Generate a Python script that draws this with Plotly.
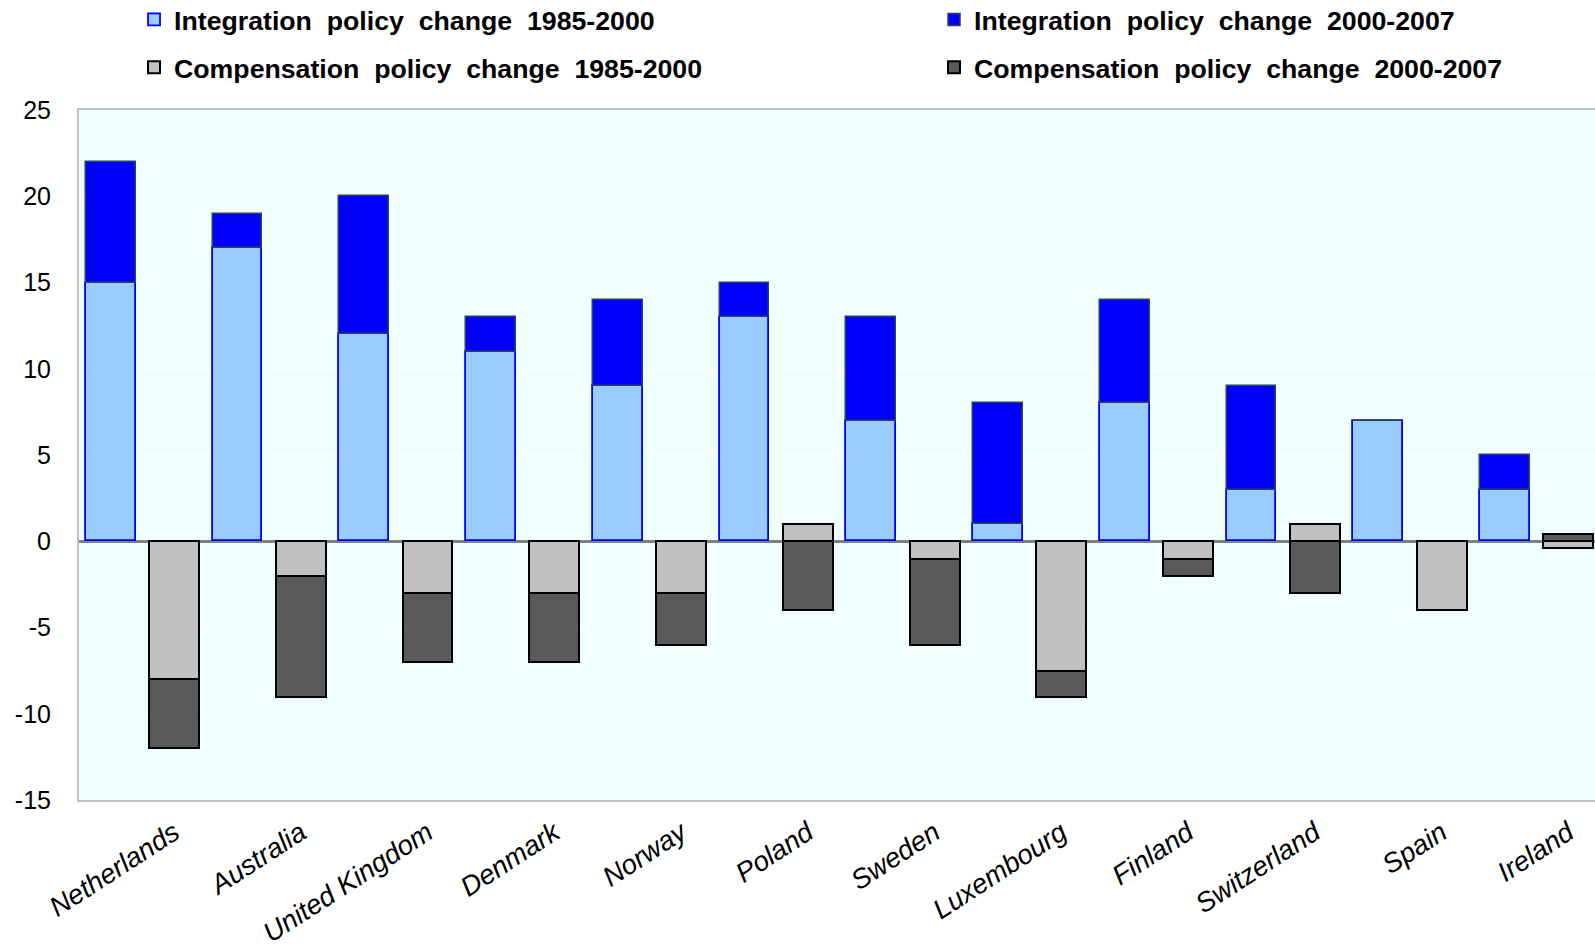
import plotly.graph_objects as go

# Policy change scores by country (integration vs. compensation, two periods)
countries = ["Netherlands", "Australia", "United Kingdom", "Denmark", "Norway", "Poland",
             "Sweden", "Luxembourg", "Finland", "Switzerland", "Spain", "Ireland"]
integration_1985_2000 = [15, 17, 12, 11, 9, 13, 7, 1, 8, 3, 7, 3]
integration_2000_2007 = [7, 2, 8, 2, 5, 2, 6, 7, 6, 6, 0, 2]
compensation_1985_2000 = [-8, -2, -3, -3, -3, 1, -1, -7.5, -1, 1, -4, -0.4]
compensation_2000_2007 = [-4, -7, -4, -4, -3, -4, -5, -1.5, -1, -3, 0, 0.4]
y_ticks = [-15, -10, -5, 0, 5, 10, 15, 20, 25]
y_tick_text = ["-15", "-10", "-5", "0", "5", "10", "15", "20", "25"]

# Each country occupies two slots: integration bar, then compensation bar
n = len(countries)
x_int = [2 * i for i in range(n)]
x_comp = [2 * i + 1 for i in range(n)]
label_pos = [2 * i + 1.0 for i in range(n)]
bar_w = 0.786

FONT = "Liberation Sans, Arial, sans-serif"
SP = "\u00a0\u00a0"

series = [
    (x_int, integration_1985_2000, "Integration policy change 1985-2000",
     "#99CCFF", "#0000FF", 1.8, "legend"),
    (x_int, integration_2000_2007, "Integration policy change 2000-2007",
     "#0000FF", "#2F3F5F", 1.5, "legend2"),
    (x_comp, compensation_1985_2000, "Compensation policy change 1985-2000",
     "#C0C0C0", "#000000", 2, "legend3"),
    (x_comp, compensation_2000_2007, "Compensation policy change 2000-2007",
     "#5A5A5A", "#000000", 2, "legend4"),
]

fig = go.Figure()
for xs, ys, name, fill, edge, lw, leg in series:
    fig.add_bar(x=xs, y=ys, width=bar_w, name=name.replace(" ", SP),
                marker=dict(color=fill, line=dict(color=edge, width=lw)),
                legend=leg, showlegend=True)

# One legend box per entry, laid out as a 2 x 2 block above the plot
legend_style = dict(orientation="h", xanchor="left", yanchor="middle",
                    font=dict(family=FONT, size=26.7, color="#000000", weight="bold"),
                    bgcolor="rgba(0,0,0,0)", borderwidth=0, visible=True,
                    itemclick=False, itemdoubleclick=False)
col_x = [0.0363, 0.564]
row_y = [1.131, 1.0616]

fig.update_layout(
    width=1595, height=951,
    showlegend=True,
    margin=dict(l=79, r=0, t=110, b=151, autoexpand=False),
    paper_bgcolor="#FFFFFF",
    plot_bgcolor="#F0FFFF",
    barmode="relative",
    bargap=0,
    legend=dict(legend_style, x=col_x[0], y=row_y[0]),
    legend2=dict(legend_style, x=col_x[1], y=row_y[0]),
    legend3=dict(legend_style, x=col_x[0], y=row_y[1]),
    legend4=dict(legend_style, x=col_x[1], y=row_y[1]),
    font=dict(family=FONT, color="#000000"),
    xaxis=dict(
        range=[-0.5, 23.42],
        tickvals=label_pos, ticktext=countries, tickangle=-33,
        tickfont=dict(family=FONT, size=27.5, style="italic", color="#000000"),
        showgrid=False, zeroline=False, ticks="", ticklabelstandoff=4,
        showline=True, linecolor="#C0C0C0", linewidth=2, mirror=True,
        automargin=False,
    ),
    yaxis=dict(
        range=[-15, 25], tickvals=y_ticks, ticktext=y_tick_text,
        tickfont=dict(family=FONT, size=25, color="#000000"),
        showgrid=True, gridcolor="#FFFFFF", gridwidth=1,
        zeroline=True, zerolinecolor="#808080", zerolinewidth=3,
        ticks="", ticklabelstandoff=21,
        showline=True, linecolor="#C0C0C0", linewidth=2, mirror=True,
        automargin=False,
    ),
)

fig.write_html("out.html")
